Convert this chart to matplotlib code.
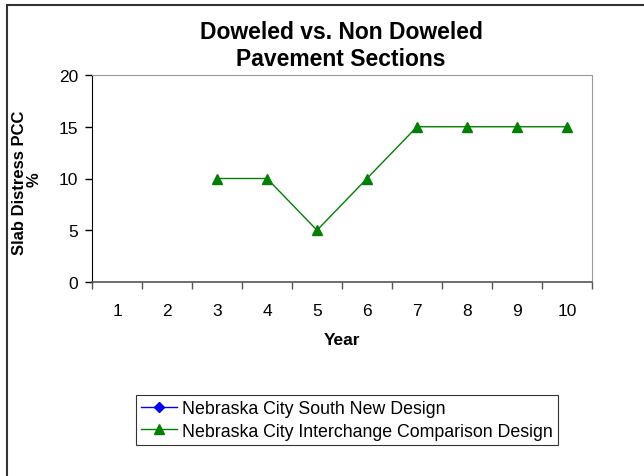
import numpy as np
import matplotlib
matplotlib.use("Agg")
import matplotlib.pyplot as plt
from matplotlib.patches import Rectangle

plt.rcParams['font.family'] = ['Liberation Sans', 'DejaVu Sans']

years = [1, 2, 3, 4, 5, 6, 7, 8, 9, 10]
south_new = [np.nan] * 10
interchange = [np.nan, np.nan, 10, 10, 5, 10, 15, 15, 15, 15]
series_names = ["Nebraska City South New Design",
                "Nebraska City Interchange Comparison Design"]

W, H = 644, 477
fig = plt.figure(figsize=(W / 100, H / 100), dpi=100)

# outer chart frame (left/top visible only)
fig.patches.append(Rectangle((7 / W, -0.1), 1.2, (H - 6) / H + 0.1,
                             transform=fig.transFigure, fill=False,
                             edgecolor='#333333', lw=1.5))

ax = fig.add_axes([92 / W, (H - 283) / H, 500 / W, 207 / H])
x = np.arange(len(years))
ax.plot(x, south_new, color='#0000ff', marker='D', ms=5, lw=1,
        label=series_names[0])
ax.plot(x, interchange, color='#008000', marker='^', ms=7, lw=1,
        label=series_names[1])

ax.set_xlim(-0.5, len(years) - 0.5)
ax.set_ylim(0, 20)
ax.set_yticks([0, 5, 10, 15, 20])
ax.set_xticks(np.arange(len(years) + 1) - 0.5)
ax.set_xticklabels([])
ax.set_xticks(x, minor=True)
ax.set_xticklabels([str(y) for y in years], minor=True)
ax.tick_params(axis='x', which='minor', length=0, labelsize=12.5, pad=15)
ax.tick_params(axis='x', which='major', length=5, width=1, color='#555555')
ax.tick_params(axis='y', length=5, width=1, labelsize=12.5, pad=5)

for s in ['top', 'right']:
    ax.spines[s].set_color('#999999')
ax.spines['left'].set_color('black')
ax.spines['bottom'].set_color('#555555')
ax.spines['bottom'].set_linewidth(1.2)

ax.set_xlabel("Year", fontsize=12.5, fontweight='bold', labelpad=10)
# y label in two lines, as Excel wrapped it
fig.text(20 / W, (H - 183) / H, "Slab Distress PCC", rotation=90,
         ha='center', va='center', fontsize=12, fontweight='bold')
fig.text(34 / W, (H - 180) / H, "%", rotation=90,
         ha='center', va='center', fontsize=12, fontweight='bold')

fig.text(341 / W, (H - 39) / H, "Doweled vs. Non Doweled", ha='center',
         va='baseline', fontsize=16.5, fontweight='bold')
fig.text(341 / W, (H - 66) / H, "Pavement Sections", ha='center',
         va='baseline', fontsize=16.5, fontweight='bold')

leg = fig.legend(loc='center', bbox_to_anchor=(347 / W, (H - 421) / H),
                 fontsize=12.75, frameon=True, fancybox=False,
                 handlelength=2.0, handletextpad=0.3, borderpad=0.3,
                 labelspacing=0.3, borderaxespad=0)
leg.get_frame().set_edgecolor('black')
leg.get_frame().set_linewidth(0.8)

fig.savefig("out.png", dpi=100)
